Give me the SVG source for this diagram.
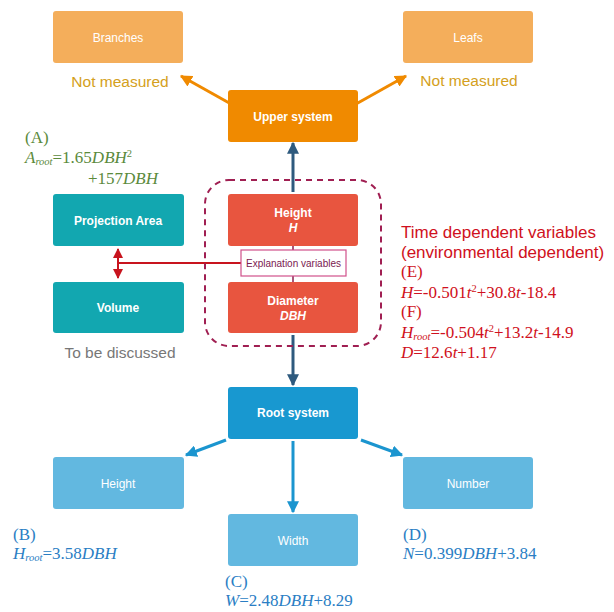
<svg xmlns="http://www.w3.org/2000/svg" width="614" height="612" viewBox="0 0 614 612">
<defs>
<marker id="ao" viewBox="0 0 10 10" refX="9" refY="5" markerWidth="4" markerHeight="4" orient="auto"><path d="M0,0L10,5L0,10z" fill="#f08a00"/></marker>
<marker id="ad" viewBox="0 0 10 10" refX="9" refY="5" markerWidth="4" markerHeight="4" orient="auto"><path d="M0,0L10,5L0,10z" fill="#2e5a7e"/></marker>
<marker id="ab" viewBox="0 0 10 10" refX="9" refY="5" markerWidth="4" markerHeight="4" orient="auto"><path d="M0,0L10,5L0,10z" fill="#1b95cf"/></marker>
<marker id="ar" viewBox="0 0 10 10" refX="9" refY="5" markerWidth="5" markerHeight="5" orient="auto-start-reverse"><path d="M0,0L10,5L0,10z" fill="#c8141e"/></marker>
</defs>
<style>
.box{stroke:none}
.lbl{font-family:"Liberation Sans",Arial,sans-serif;font-size:12px;fill:#fff;text-anchor:middle}
.b{font-weight:bold}
.tm{font-family:"Liberation Serif","Times New Roman",serif;font-size:17px}
.sn{font-family:"Liberation Sans",Arial,sans-serif}
</style>
<rect width="614" height="612" fill="#fff"/>
<g id="connectors" fill="none">
<line x1="231" y1="104" x2="181" y2="76" stroke="#f08a00" stroke-width="3" marker-end="url(#ao)"/>
<line x1="356" y1="104" x2="406" y2="76" stroke="#f08a00" stroke-width="3" marker-end="url(#ao)"/>
<line x1="293" y1="192" x2="293" y2="143" stroke="#2e5a7e" stroke-width="3" marker-end="url(#ad)"/>
<line x1="293" y1="335" x2="293" y2="385" stroke="#2e5a7e" stroke-width="3" marker-end="url(#ad)"/>
<line x1="293" y1="246" x2="293" y2="282" stroke="#8b2050" stroke-width="1.5"/>
<line x1="118" y1="263" x2="241" y2="263" stroke="#c8141e" stroke-width="2"/>
<line x1="118" y1="249" x2="118" y2="278" stroke="#c8141e" stroke-width="2" marker-start="url(#ar)" marker-end="url(#ar)"/>
<line x1="226" y1="440" x2="186" y2="455" stroke="#1b95cf" stroke-width="3" marker-end="url(#ab)"/>
<line x1="361" y1="440" x2="402" y2="455" stroke="#1b95cf" stroke-width="3" marker-end="url(#ab)"/>
<line x1="293" y1="441" x2="293" y2="512" stroke="#1b95cf" stroke-width="3" marker-end="url(#ab)"/>
</g>
<g id="group-dashed"><rect x="205" y="180" width="176" height="166" rx="24" fill="none" stroke="#a01f52" stroke-width="2" stroke-dasharray="6,5"/></g>
<g id="branches"><rect class="box" x="53" y="11" width="130" height="52" rx="3" fill="#f4ae5b"/><text class="lbl" x="118" y="42">Branches</text></g>
<g id="leafs"><rect class="box" x="403" y="11" width="130" height="52" rx="3" fill="#f4ae5b"/><text class="lbl" x="468" y="42">Leafs</text></g>
<text class="sn" x="120" y="87" font-size="15.5" fill="#d4a020" text-anchor="middle">Not measured</text>
<text class="sn" x="469" y="86" font-size="15.5" fill="#d4a020" text-anchor="middle">Not measured</text>
<g id="upper"><rect class="box" x="228" y="90" width="130" height="52" rx="3" fill="#f08a00"/><text class="lbl b" x="293" y="121">Upper system</text></g>
<g id="height"><rect class="box" x="228" y="194" width="130" height="52" rx="3" fill="#e8553f"/><text class="lbl b" x="293" y="217">Height</text><text class="lbl b" x="293" y="232" font-style="italic">H</text></g>
<g id="diameter"><rect class="box" x="228" y="282" width="130" height="51" rx="3" fill="#e8553f"/><text class="lbl b" x="293" y="305">Diameter</text><text class="lbl b" x="293" y="320" font-style="italic">DBH</text></g>
<g id="explanation"><rect x="241" y="250" width="105" height="26" fill="#fff" stroke="#d0508a" stroke-width="1.2"/><text class="sn" x="293.5" y="267" font-size="10" fill="#7a2050" text-anchor="middle">Explanation variables</text></g>
<g id="projection"><rect class="box" x="53" y="194" width="131" height="52" rx="3" fill="#12a7b0"/><text class="lbl b" x="118" y="225">Projection Area</text></g>
<g id="volume"><rect class="box" x="53" y="282" width="131" height="51" rx="3" fill="#12a7b0"/><text class="lbl b" x="118" y="312">Volume</text></g>
<text class="sn" x="120" y="358" font-size="15.5" fill="#777" text-anchor="middle">To be discussed</text>
<g id="root"><rect class="box" x="228" y="387" width="130" height="52" rx="3" fill="#1898d0"/><text class="lbl b" x="293" y="417">Root system</text></g>
<g id="rheight"><rect class="box" x="53" y="457" width="131" height="52" rx="3" fill="#62b8e0"/><text class="lbl" x="118" y="488">Height</text></g>
<g id="rwidth"><rect class="box" x="228" y="514" width="130" height="52" rx="3" fill="#62b8e0"/><text class="lbl" x="293" y="545">Width</text></g>
<g id="rnumber"><rect class="box" x="403" y="457" width="130" height="52" rx="3" fill="#62b8e0"/><text class="lbl" x="468" y="488">Number</text></g>
<g fill="#5b8a3c">
<text class="tm" x="25" y="143">(A)</text>
<text class="tm" x="25" y="163"><tspan font-style="italic">A</tspan><tspan font-style="italic" font-size="10.5" dy="2">root</tspan><tspan dy="-2">=1.65</tspan><tspan font-style="italic">DBH</tspan><tspan font-size="10.5" dy="-6">2</tspan></text>
<text class="tm" x="88" y="184">+157<tspan font-style="italic">DBH</tspan></text>
</g>
<g fill="#d01020">
<text class="sn" x="401" y="238" font-size="17">Time dependent variables</text>
<text class="sn" x="401" y="258" font-size="17">(environmental dependent)</text>
<text class="tm" x="401" y="277">(E)</text>
<text class="tm" x="401" y="298"><tspan font-style="italic">H</tspan>=-0.501<tspan font-style="italic">t</tspan><tspan font-size="10.5" dy="-6">2</tspan><tspan dy="6">+30.8</tspan><tspan font-style="italic">t</tspan>-18.4</text>
<text class="tm" x="401" y="317">(F)</text>
<text class="tm" x="401" y="338"><tspan font-style="italic">H</tspan><tspan font-style="italic" font-size="10.5" dy="2">root</tspan><tspan dy="-2">=-0.504</tspan><tspan font-style="italic">t</tspan><tspan font-size="10.5" dy="-6">2</tspan><tspan dy="6">+13.2</tspan><tspan font-style="italic">t</tspan>-14.9</text>
<text class="tm" x="401" y="358"><tspan font-style="italic">D</tspan>=12.6<tspan font-style="italic">t</tspan>+1.17</text>
</g>
<g fill="#2a7ec4">
<text class="tm" x="13" y="540">(B)</text>
<text class="tm" x="13" y="559"><tspan font-style="italic">H</tspan><tspan font-style="italic" font-size="10.5" dy="2">root</tspan><tspan dy="-2">=3.58</tspan><tspan font-style="italic">DBH</tspan></text>
<text class="tm" x="225" y="587">(C)</text>
<text class="tm" x="225" y="606"><tspan font-style="italic">W</tspan>=2.48<tspan font-style="italic">DBH</tspan>+8.29</text>
<text class="tm" x="403" y="540">(D)</text>
<text class="tm" x="403" y="559"><tspan font-style="italic">N</tspan>=0.399<tspan font-style="italic">DBH</tspan>+3.84</text>
</g>
</svg>
